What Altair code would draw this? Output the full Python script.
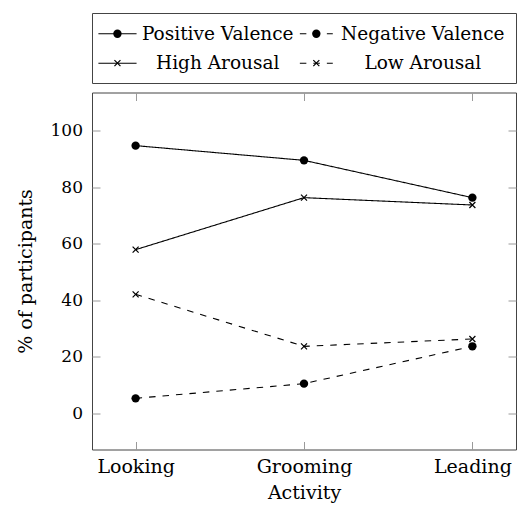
import altair as alt
import pandas as pd

# ---------------- data ----------------
activities = ["Looking", "Grooming", "Leading"]
series_names = ["Positive Valence", "Negative Valence", "High Arousal", "Low Arousal"]
positive_valence = [94.7, 89.5, 76.3]
negative_valence = [5.3, 10.5, 23.7]
high_arousal = [57.9, 76.3, 73.7]
low_arousal = [42.1, 23.7, 26.3]
y_ticks = [0, 20, 40, 60, 80, 100]

rows = []
for name, vals in zip(series_names, [positive_valence, negative_valence, high_arousal, low_arousal]):
    for a, v in zip(activities, vals):
        rows.append({"activity": a, "series": name, "value": v})
df = pd.DataFrame(rows)

FONT = "DejaVu Serif"
XPATH = "M-1,-1L1,1M-1,1L1,-1"
TICK_COLOR = "#9a9a9a"
PLOT_W = 424
PLOT_H = 357
LEG_H = 70

valence = ["Positive Valence", "Negative Valence"]
arousal = ["High Arousal", "Low Arousal"]

x_scale = alt.Scale(domain=activities, padding=0.259)
y_scale = alt.Scale(domain=[-12.8, 113.5], nice=False, zero=False)
dash_scale = alt.Scale(domain=series_names, range=[[1, 0], [5.5, 4.5], [1, 0], [5.5, 4.5]])

x_axis = alt.Axis(orient="bottom", offset=-8, tickSize=8, domain=False, tickColor=TICK_COLOR,
                  labelFont=FONT, labelFontSize=19, labelColor="black", labelPadding=8,
                  labelAngle=0, grid=False, title="Activity", titleFont=FONT, titleFontSize=19,
                  titleFontWeight="normal", titleColor="black", titlePadding=7)
y_axis = alt.Axis(orient="left", values=y_ticks, offset=-8, tickSize=8, domain=False,
                  tickColor=TICK_COLOR, labelFont=FONT, labelFontSize=17, labelColor="black",
                  labelPadding=9.5, grid=False, title="% of participants", titleFont=FONT,
                  titleFontSize=19, titleFontWeight="normal", titleColor="black", titlePadding=15)
x_axis_top = alt.Axis(orient="top", offset=-8, tickSize=8, domain=False, tickColor=TICK_COLOR,
                      labels=False, grid=False, title=None, minExtent=0, maxExtent=0)
y_axis_right = alt.Axis(orient="right", values=y_ticks, offset=-8, tickSize=8, domain=False,
                        tickColor=TICK_COLOR, labels=False, grid=False, title=None,
                        minExtent=0, maxExtent=0)

base = alt.Chart(df)

lines = base.mark_line(color="black", strokeWidth=1.1).encode(
    x=alt.X("activity:N", sort=activities, scale=x_scale, axis=x_axis),
    y=alt.Y("value:Q", scale=y_scale, axis=y_axis),
    detail="series:N",
    strokeDash=alt.StrokeDash("series:N", scale=dash_scale, legend=None),
)

circles = base.transform_filter(
    alt.FieldOneOfPredicate(field="series", oneOf=valence)
).mark_point(shape="circle", filled=True, size=70, color="black", opacity=1).encode(
    x=alt.X("activity:N", sort=activities, scale=x_scale, axis=None),
    y=alt.Y("value:Q", scale=y_scale, axis=None),
)

crosses = base.transform_filter(
    alt.FieldOneOfPredicate(field="series", oneOf=arousal)
).mark_point(shape=XPATH, filled=False, size=36, color="black", strokeWidth=1.2, opacity=1).encode(
    x=alt.X("activity:N", sort=activities, scale=x_scale, axis=None),
    y=alt.Y("value:Q", scale=y_scale, axis=None),
)

frame_axes = base.mark_point(opacity=0).encode(
    x=alt.X("activity:N", sort=activities, scale=x_scale, axis=x_axis_top),
    y=alt.Y("value:Q", scale=y_scale, axis=y_axis_right),
)

main = alt.layer(lines, circles, crosses, frame_axes).resolve_axis(
    x="independent", y="independent"
).properties(width=PLOT_W, height=PLOT_H)

# ---------------- legend (2 x 2 grid, in legend units 0..430 x 0..70) ----------------
legend_col = [0, 1, 0, 1]
legend_row = [0, 0, 1, 1]
col_line_start = [6.5, 210.8]
col_line_end = [45.2, 244.2]
col_marker = [25.8, 227.5]
col_text = [127.5, 335.5]
row_y = [20.8, 50.2]

leg_rows = []
for name, c, r in zip(series_names, legend_col, legend_row):
    leg_rows.append({
        "series": name,
        "x1": col_line_start[c], "x2": col_line_end[c],
        "mx": col_marker[c], "tx": col_text[c], "y": row_y[r],
    })
leg_df = pd.DataFrame(leg_rows)

lx = alt.Scale(domain=[0, 430], nice=False, zero=False)
ly = alt.Scale(domain=[70, 0], nice=False, zero=False)
leg_dash = alt.Scale(domain=series_names, range=[[1, 0], [6.5, 7], [1, 0], [6.5, 7]])

lbase = alt.Chart(leg_df)
leg_lines = lbase.mark_rule(color="black", strokeWidth=1.1).encode(
    x=alt.X("x1:Q", scale=lx, axis=None),
    x2="x2:Q",
    y=alt.Y("y:Q", scale=ly, axis=None),
    strokeDash=alt.StrokeDash("series:N", scale=leg_dash, legend=None),
)
leg_circles = lbase.transform_filter(
    alt.FieldOneOfPredicate(field="series", oneOf=valence)
).mark_point(shape="circle", filled=True, size=70, color="black", opacity=1).encode(
    x=alt.X("mx:Q", scale=lx, axis=None),
    y=alt.Y("y:Q", scale=ly, axis=None),
)
leg_crosses = lbase.transform_filter(
    alt.FieldOneOfPredicate(field="series", oneOf=arousal)
).mark_point(shape=XPATH, filled=False, size=36, color="black", strokeWidth=1.2, opacity=1).encode(
    x=alt.X("mx:Q", scale=lx, axis=None),
    y=alt.Y("y:Q", scale=ly, axis=None),
)
leg_text = lbase.mark_text(font=FONT, fontSize=18.5, color="black", align="center",
                           baseline="middle").encode(
    x=alt.X("tx:Q", scale=lx, axis=None),
    y=alt.Y("y:Q", scale=ly, axis=None),
    text="series:N",
)
legend = alt.layer(leg_lines, leg_circles, leg_crosses, leg_text).properties(
    width=PLOT_W, height=LEG_H)

chart = alt.vconcat(legend, main, spacing=7.5).properties(
    padding={"left": 7, "top": 4, "right": 0, "bottom": 0}
).configure_view(stroke="#444444", strokeWidth=1)

chart.save("out.html", embed_options={"renderer": "svg", "actions": False})
